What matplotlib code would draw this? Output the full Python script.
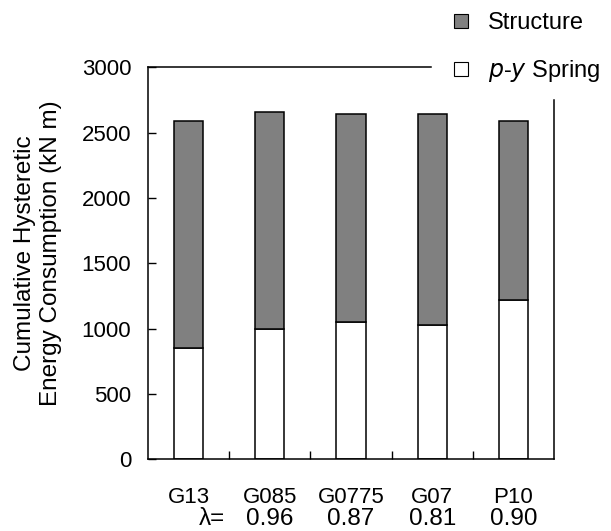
import matplotlib.pyplot as plt
from matplotlib.lines import Line2D
from matplotlib.ticker import FixedLocator
import numpy as np

plt.rcParams["font.family"] = ["Liberation Sans", "DejaVu Sans"]
plt.rcParams["font.size"] = 16

# data
cases = ["G13", "G085", "G0775", "G07", "P10"]
lam = ["", "0.96", "0.87", "0.81", "0.90"]
total = [2590, 2657, 2642, 2642, 2590]
spring = [855, 997, 1051, 1028, 1217]
structure = [t - s for t, s in zip(total, spring)]

fig = plt.figure(figsize=(6.11, 5.31), dpi=100)
ax = fig.add_axes([0.2422, 0.135, 0.6645, 0.738])

x = np.arange(len(cases))
w = 0.36
ax.bar(x, spring, w, color="white", edgecolor="black", linewidth=1.1)
ax.bar(x, structure, w, bottom=spring, color="#808080", edgecolor="black", linewidth=1.1)

ax.set_xlim(-0.5, len(cases) - 0.5)
ax.set_ylim(0, 3000)
ax.set_yticks(np.arange(0, 3001, 500))
ax.set_xticks(x)
ax.set_xticklabels(cases)
ax.xaxis.set_minor_locator(FixedLocator(x[:-1] + 0.5))
ax.tick_params(axis="x", which="major", length=0, pad=20)
ax.tick_params(axis="x", which="minor", direction="in", length=6, width=1)
ax.tick_params(axis="y", direction="in", length=6, width=1, pad=12)

# part of the frame is hidden behind the legend
ax.spines["top"].set_bounds(-0.5, 2.99)
ax.spines["right"].set_bounds(0, 2750)
for sp in ax.spines.values():
    sp.set_linewidth(1.1)

# lambda row under the case names
trans = ax.get_xaxis_transform()
ax.text(0.45, -0.152, "\u03bb=", transform=trans, ha="right", va="center", fontsize=17.5)
for xi, v in zip(x, lam):
    if v:
        ax.text(xi, -0.152, v, transform=trans, ha="center", va="center", fontsize=17.5)

fig.text(38 / 611, 0.524, "Cumulative Hysteretic\nEnergy Consumption (kN m)",
         rotation=90, ha="center", va="center", linespacing=1.2, fontsize=17.5)

handles = [
    Line2D([], [], ls="none", marker="s", markersize=10.5, markerfacecolor="#808080",
           markeredgecolor="black", markeredgewidth=0.8),
    Line2D([], [], ls="none", marker="s", markersize=10.5, markerfacecolor="white",
           markeredgecolor="black", markeredgewidth=0.8),
]
fig.legend(handles, ["Structure", "$\\it{p}$-$\\it{y}$ Spring"], loc="upper left",
           bbox_to_anchor=(0.735, 0.977), frameon=False, borderpad=0, borderaxespad=0,
           handletextpad=0.64, labelspacing=1.0, handlelength=1.0, fontsize=17)

fig.savefig("out.png", dpi=100)
